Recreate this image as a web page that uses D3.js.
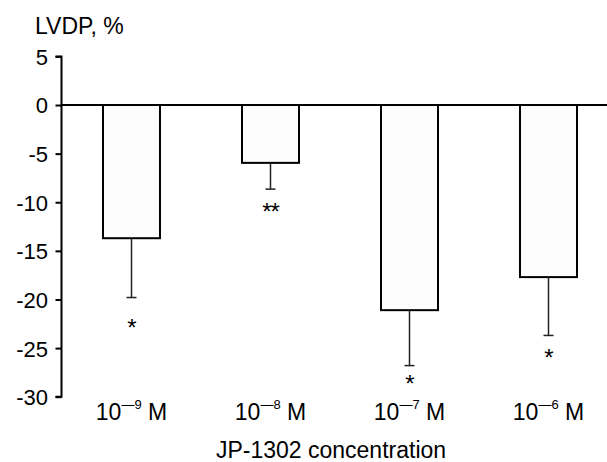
<!DOCTYPE html>
<html><head><meta charset="utf-8">
<script src="https://cdn.jsdelivr.net/npm/d3@7"></script>
<style>body{margin:0;background:#fff}svg{display:block}text{font-family:"Liberation Sans",Arial,sans-serif;fill:#000}</style>
</head><body>
<svg id="c" width="607" height="462"></svg>
<script>
const categories = ["-9", "-8", "-7", "-6"];
const means = [-13.7, -5.95, -21.1, -17.7];
const errors = [6.1, 2.7, 5.7, 6.0];
const stars = ["*", "**", "*", "*"];
const starLevels = [-22.4, -10.5, -28.2, -25.5];
const yTicks = [5, 0, -5, -10, -15, -20, -25, -30];

const svg = d3.select("#c");
const y = d3.scaleLinear().domain([-30, 5]).range([396.7, 56.4]);
const x = d3.scaleBand().domain(categories).range([61.3, 618.7]).paddingInner(0.59).paddingOuter(0.3);

// bars
svg.selectAll("rect.bar").data(means).enter().append("rect")
  .attr("x", (d,i)=>x(categories[i]))
  .attr("y", y(0))
  .attr("width", x.bandwidth())
  .attr("height", d=>y(d)-y(0))
  .attr("fill", "#fdfdfd").attr("stroke", "#000").attr("stroke-width", 2);

// error bars
const cx = i => x(categories[i]) + x.bandwidth()/2;
svg.selectAll("line.err").data(means).enter().append("line")
  .attr("x1",(d,i)=>cx(i)).attr("x2",(d,i)=>cx(i))
  .attr("y1",d=>y(d)).attr("y2",(d,i)=>y(d-errors[i]))
  .attr("stroke","#222").attr("stroke-width",1.5);
svg.selectAll("line.cap").data(means).enter().append("line")
  .attr("x1",(d,i)=>cx(i)-5).attr("x2",(d,i)=>cx(i)+5)
  .attr("y1",(d,i)=>y(d-errors[i])).attr("y2",(d,i)=>y(d-errors[i]))
  .attr("stroke","#222").attr("stroke-width",1.5);

// stars
svg.selectAll("text.star").data(stars).enter().append("text")
  .attr("x",(d,i)=>cx(i)).attr("y",(d,i)=>y(starLevels[i])+13)
  .attr("text-anchor","middle").attr("font-size",24).attr("letter-spacing",-1).text(d=>d);

// y axis
const ax = svg.append("g").attr("transform","translate(61.5,0)")
  .call(d3.axisLeft(y).tickValues(yTicks).tickSize(6).tickPadding(7.5).tickFormat(d=>String(d)));
ax.select(".domain").attr("stroke","#000").attr("stroke-width",2).attr("d",`M-6,${y(5)}H0V${y(-30)}H-6`);
ax.selectAll(".tick line").attr("stroke","#000").attr("stroke-width",2);
ax.selectAll(".tick text").attr("font-size",22).attr("font-family","Liberation Sans, Arial, sans-serif").attr("fill","#000").attr("dy","0.36em");

// zero line
svg.append("line").attr("x1",61).attr("x2",607).attr("y1",y(0)).attr("y2",y(0))
  .attr("stroke","#000").attr("stroke-width",2);

// category labels
categories.forEach((c,i)=>{
  const t = svg.append("text").attr("x",cx(i)).attr("y",420).attr("text-anchor","middle").attr("font-size",23);
  t.append("tspan").text("10");
  t.append("tspan").attr("dy",-11).attr("font-size",13).text("\u2014" + c.slice(1));
  t.append("tspan").attr("dy",11).text(" M");
});

// titles
svg.append("text").attr("x",35).attr("y",34).attr("font-size",23).text("LVDP, %");
svg.append("text").attr("x",331).attr("y",458).attr("text-anchor","middle").attr("font-size",23).text("JP-1302 concentration");
</script>
</body></html>
